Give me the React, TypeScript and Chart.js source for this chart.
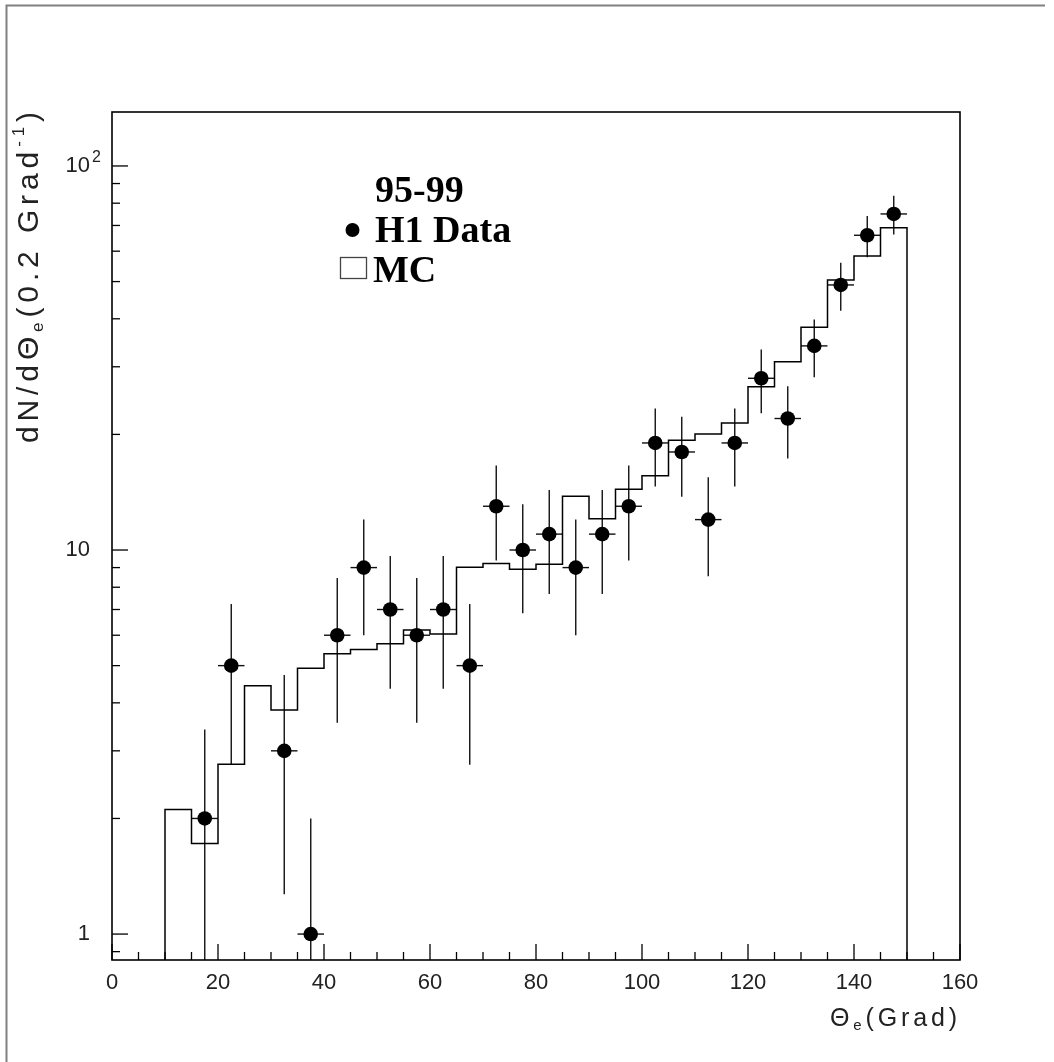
import React, { useEffect, useRef } from 'react';
import { Chart, registerables } from 'chart.js';

Chart.register(...registerables);

// ---- data ----
const binCenters = [17.5, 22.5, 32.5, 37.5, 42.5, 47.5, 52.5, 57.5, 62.5, 67.5, 72.5, 77.5, 82.5, 87.5, 92.5, 97.5, 102.5, 107.5, 112.5, 117.5, 122.5, 127.5, 132.5, 137.5, 142.5, 147.5];
const dataCounts = [2, 5, 3, 1, 6, 9, 7, 6, 7, 5, 13, 10, 11, 9, 11, 13, 19, 18, 12, 19, 28, 22, 34, 49, 66, 75];
const dataErr = [1.41, 2.24, 1.73, 1.0, 2.45, 3.0, 2.65, 2.45, 2.65, 2.24, 3.61, 3.16, 3.32, 3.0, 3.32, 3.61, 4.36, 4.24, 3.46, 4.36, 5.29, 4.69, 5.83, 7.0, 8.12, 8.66];
const binHalfWidth = 2.5;

const mcLowEdges = [10, 15, 20, 25, 30, 35, 40, 45, 50, 55, 60, 65, 70, 75, 80, 85, 90, 95, 100, 105, 110, 115, 120, 125, 130, 135, 140, 145];
const mcValues = [2.11, 1.72, 2.77, 4.43, 3.83, 4.92, 5.37, 5.51, 5.70, 6.19, 6.04, 9.02, 9.23, 8.91, 9.18, 13.8, 12.06, 14.4, 15.6, 19.3, 20.05, 21.4, 26.6, 30.9, 38.0, 50.5, 58.3, 69.0];
const mcHighEdge = 150;

const X_MIN = 0;
const X_MAX = 160;
const Y_MIN = 0.856;
const Y_MAX = 138.2;

const xTickValues = [0, 20, 40, 60, 80, 100, 120, 140, 160];
const xTickLabels = ['0', '20', '40', '60', '80', '100', '120', '140', '160'];
const xMinorStep = 5;
const yTickValues = [1, 10, 100];
const yTickBase = ['1', '10', '10'];
const yTickExp = ['', '', '2'];

const legendYears = '95-99';
const legendData = 'H1 Data';
const legendMC = 'MC';

const TICK_FONT = '"Liberation Sans", Arial, sans-serif';
const TITLE_FONT = '"Liberation Sans", Arial, sans-serif';
const LEGEND_FONT = '"Liberation Serif", "Times New Roman", serif';

type Part = { t: string; s: number; dy: number };

function drawParts(ctx: CanvasRenderingContext2D, parts: Part[], x: number, y: number, targetLen: number) {
  let natural = 0;
  let nChars = 0;
  for (const p of parts) {
    ctx.font = `${p.s}px ${TITLE_FONT}`;
    natural += ctx.measureText(p.t).width;
    nChars += p.t.length;
  }
  const spacing = Math.max(0, (targetLen - natural) / Math.max(1, nChars - 1));
  let cx = x;
  ctx.textAlign = 'left';
  ctx.textBaseline = 'alphabetic';
  for (const p of parts) {
    ctx.font = `${p.s}px ${TITLE_FONT}`;
    for (const ch of p.t) {
      ctx.fillText(ch, cx, y + p.dy);
      cx += ctx.measureText(ch).width + spacing;
    }
  }
}

const rootPlugin = {
  id: 'rootStyle',
  beforeDatasetsDraw(chart: any) {
    const ctx: CanvasRenderingContext2D = chart.ctx;
    const { left, right, top, bottom } = chart.chartArea;
    const xs = chart.scales.x;
    const ys = chart.scales.y;
    ctx.save();
    ctx.beginPath();
    ctx.rect(left, top, right - left, bottom - top);
    ctx.clip();
    ctx.strokeStyle = '#111';
    ctx.lineWidth = 1.4;
    for (let i = 0; i < binCenters.length; i++) {
      const x = xs.getPixelForValue(binCenters[i]);
      const yv = ys.getPixelForValue(dataCounts[i]);
      const lo = dataCounts[i] - dataErr[i];
      const yLo = lo > 0 ? ys.getPixelForValue(lo) : bottom + 5;
      const yHi = ys.getPixelForValue(dataCounts[i] + dataErr[i]);
      ctx.beginPath();
      ctx.moveTo(x, yHi);
      ctx.lineTo(x, yLo);
      ctx.stroke();
      ctx.beginPath();
      ctx.moveTo(xs.getPixelForValue(binCenters[i] - binHalfWidth), yv);
      ctx.lineTo(xs.getPixelForValue(binCenters[i] + binHalfWidth), yv);
      ctx.stroke();
    }
    ctx.restore();
  },
  afterDraw(chart: any) {
    const ctx: CanvasRenderingContext2D = chart.ctx;
    const { left, right, top, bottom } = chart.chartArea;
    const xs = chart.scales.x;
    const ys = chart.scales.y;
    ctx.save();

    // outer pad border
    ctx.strokeStyle = '#808080';
    ctx.lineWidth = 2;
    ctx.beginPath();
    ctx.moveTo(6.5, 1062);
    ctx.lineTo(6.5, 5.5);
    ctx.lineTo(1045, 5.5);
    ctx.stroke();

    // plot frame
    ctx.strokeStyle = '#000';
    ctx.lineWidth = 1.6;
    ctx.strokeRect(left, top, right - left, bottom - top);

    // x ticks
    ctx.lineWidth = 1.3;
    for (let v = X_MIN; v <= X_MAX; v += xMinorStep) {
      const px = xs.getPixelForValue(v);
      const len = xTickValues.includes(v) ? 16 : 8;
      ctx.beginPath();
      ctx.moveTo(px, bottom);
      ctx.lineTo(px, bottom - len);
      ctx.stroke();
    }
    // y ticks
    for (let k = -1; k <= 2; k++) {
      for (let m = 1; m <= 9; m++) {
        const v = m * Math.pow(10, k);
        if (v < Y_MIN || v > Y_MAX) continue;
        const py = ys.getPixelForValue(v);
        const len = m === 1 ? 16 : 8;
        ctx.beginPath();
        ctx.moveTo(left, py);
        ctx.lineTo(left + len, py);
        ctx.stroke();
      }
    }

    // tick labels
    ctx.fillStyle = '#222';
    ctx.font = `22px ${TICK_FONT}`;
    ctx.textAlign = 'center';
    ctx.textBaseline = 'top';
    xTickValues.forEach((v, i) => {
      ctx.fillText(xTickLabels[i], xs.getPixelForValue(v), bottom + 12);
    });
    ctx.textBaseline = 'middle';
    yTickValues.forEach((v, i) => {
      const py = ys.getPixelForValue(v);
      ctx.font = `22px ${TICK_FONT}`;
      ctx.textAlign = 'right';
      ctx.fillText(yTickBase[i], left - 22, py);
      if (yTickExp[i]) {
        ctx.font = `16px ${TICK_FONT}`;
        ctx.textAlign = 'left';
        ctx.fillText(yTickExp[i], left - 20, py - 8);
      }
    });

    // axis titles
    ctx.fillStyle = '#222';
    drawParts(
      ctx,
      [
        { t: 'Θ', s: 25, dy: 0 },
        { t: 'e', s: 15, dy: 4 },
        { t: '(Grad)', s: 25, dy: 0 },
      ],
      830,
      1026,
      127
    );
    ctx.save();
    ctx.translate(38, 443);
    ctx.rotate(-Math.PI / 2);
    drawParts(
      ctx,
      [
        { t: 'dN/dΘ', s: 30, dy: 0 },
        { t: 'e', s: 17, dy: 5 },
        { t: '(0.2 Grad', s: 30, dy: 0 },
        { t: '-1', s: 17, dy: -14 },
        { t: ')', s: 30, dy: 0 },
      ],
      0,
      0,
      331
    );
    ctx.restore();

    // legend
    ctx.fillStyle = '#000';
    ctx.font = `bold 38px ${LEGEND_FONT}`;
    ctx.textAlign = 'left';
    ctx.textBaseline = 'alphabetic';
    ctx.fillText(legendYears, 375, 202);
    ctx.fillText(legendData, 375, 242);
    ctx.fillText(legendMC, 373, 282);
    ctx.beginPath();
    ctx.arc(352.5, 230, 7, 0, Math.PI * 2);
    ctx.fill();
    ctx.strokeStyle = '#444';
    ctx.lineWidth = 1.3;
    ctx.strokeRect(340.5, 257.5, 26, 21);

    ctx.restore();
  },
};

export default function App() {
  const canvasRef = useRef<HTMLCanvasElement | null>(null);

  useEffect(() => {
    document.body.style.margin = '0';
    const canvas = canvasRef.current;
    if (!canvas) return;
    const floor = Y_MIN / 10;
    const mcPoints = [
      { x: mcLowEdges[0], y: floor },
      ...mcLowEdges.map((e, i) => ({ x: e, y: mcValues[i] })),
      { x: mcHighEdge, y: mcValues[mcValues.length - 1] },
      { x: mcHighEdge, y: floor },
    ];
    const dataPoints = binCenters.map((x, i) => ({ x, y: dataCounts[i] }));

    const chart = new Chart(canvas, {
      type: 'scatter',
      data: {
        datasets: [
          {
            type: 'line',
            label: 'MC',
            data: mcPoints,
            stepped: 'before',
            borderColor: '#000',
            borderWidth: 1.5,
            pointRadius: 0,
            fill: false,
            tension: 0,
          } as any,
          {
            type: 'scatter',
            label: 'H1 Data',
            data: dataPoints,
            pointRadius: 7.3,
            pointHoverRadius: 7.3,
            backgroundColor: '#000',
            borderColor: '#000',
            borderWidth: 0,
            showLine: false,
          } as any,
        ],
      },
      options: {
        responsive: false,
        animation: false,
        devicePixelRatio: 1,
        layout: { padding: { top: 112, right: 94, left: 0, bottom: 0 } },
        plugins: {
          legend: { display: false },
          title: { display: false },
          tooltip: { enabled: false },
        },
        events: [],
        scales: {
          x: {
            type: 'linear',
            min: X_MIN,
            max: X_MAX,
            grid: { display: false },
            border: { display: false },
            ticks: { display: false },
            afterFit: (s: any) => {
              s.height = 102;
            },
          },
          y: {
            type: 'logarithmic',
            min: Y_MIN,
            max: Y_MAX,
            grid: { display: false },
            border: { display: false },
            ticks: { display: false },
            afterFit: (s: any) => {
              s.width = 112;
            },
          },
        },
      } as any,
      plugins: [rootPlugin],
    });
    return () => chart.destroy();
  }, []);

  return (
    <canvas
      ref={canvasRef}
      width={1054}
      height={1062}
      style={{ position: 'absolute', left: 0, top: 0, display: 'block', background: '#fff' }}
    />
  );
}
